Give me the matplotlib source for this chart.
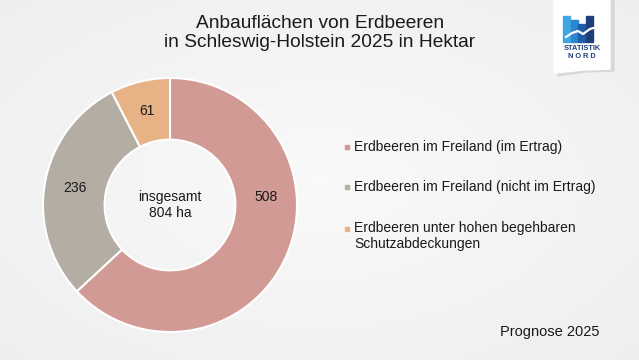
import numpy as np
import matplotlib
matplotlib.use('Agg')
import matplotlib.pyplot as plt
from matplotlib.patches import Rectangle, Polygon

plt.rcParams['font.family'] = ['Liberation Sans', 'DejaVu Sans']

# Daten
categories = ['Erdbeeren im Freiland (im Ertrag)',
              'Erdbeeren im Freiland (nicht im Ertrag)',
              'Erdbeeren unter hohen begehbaren\nSchutzabdeckungen']
values = [508, 236, 61]
colors = ['#D19A95', '#B4ADA3', '#E8B287']
total_label = 'insgesamt\n804 ha'

W, H = 639, 360
fig = plt.figure(figsize=(W / 100, H / 100), dpi=100)

# Hintergrund mit leichtem Verlauf
bg = fig.add_axes([0, 0, 1, 1], zorder=-10)
yy, xx = np.mgrid[0:H, 0:W]
d = np.sqrt(((xx - W * 0.5) / W) ** 2 + ((yy - H * 0.5) / H) ** 2)
grad = 0.978 - 0.06 * d
bg.imshow(np.dstack([grad, grad, grad]), extent=[0, W, H, 0], aspect='auto')
bg.set_xlim(0, W)
bg.set_ylim(H, 0)
bg.axis('off')

# Titel
fig.text(320 / W, 1 - 33 / H, 'Anbauflächen von Erdbeeren\nin Schleswig-Holstein 2025 in Hektar',
         ha='center', va='center', fontsize=13.8, color='#1a1a1a', linespacing=1.22)

# Ringdiagramm
cx, cy, r = 170, 205, 127
ax = fig.add_axes([(cx - r) / W, (H - cy - r) / H, 2 * r / W, 2 * r / H])
wedges, _ = ax.pie(values, colors=colors, startangle=90, counterclock=False,
                   wedgeprops=dict(width=0.485, edgecolor='white', linewidth=1.5))
ax.set_xlim(-1, 1)
ax.set_ylim(-1, 1)
ax.set_aspect('equal')
ax.axis('off')

label_r = 0.76
for i, (w, v) in enumerate(zip(wedges, values)):
    ang = np.deg2rad((w.theta1 + w.theta2) / 2)
    if i == 0:
        ang = np.deg2rad(5)  # große Scheibe: Beschriftung rechts
    ax.text(label_r * np.cos(ang), label_r * np.sin(ang), str(v),
            ha='center', va='center', fontsize=10, color='#1a1a1a')
ax.text(0, 0.0, total_label, ha='center', va='center', fontsize=10,
        color='#1a1a1a', linespacing=1.15)

# Legende
leg_y = [147, 187, 229]
for lab, col, y in zip(categories, colors, leg_y):
    fig.patches.append(Rectangle((345 / W, 1 - (y + 2) / H), 4 / W, 4 / H,
                                 transform=fig.transFigure, color=col))
    fig.text(354 / W, 1 - y / H, lab, ha='left', va='top' if '\n' in lab else 'center',
             fontsize=10, color='#1a1a1a', linespacing=1.2)
# mehrzeiliger Eintrag: oben ausrichten
fig.texts[-1].set_position((354 / W, 1 - (229 - 8) / H))

fig.text(600 / W, 1 - 332 / H, 'Prognose 2025', ha='right', va='center',
         fontsize=10.5, color='#1a1a1a')

# Logo
def fx(x):
    return x / W

def fy(y):
    return 1 - y / H

shadow = Polygon([(fx(558), fy(0)), (fx(614), fy(0)), (fx(614), fy(71)),
                  (fx(585), fy(72)), (fx(558), fy(76))],
                 closed=True, transform=fig.transFigure, color='#d8d8d8', zorder=1)
page = Polygon([(fx(554), fy(0)), (fx(610), fy(0)), (fx(610), fy(69)),
                (fx(585), fy(70)), (fx(554), fy(73))],
               closed=True, transform=fig.transFigure, color='white', zorder=2)
fig.patches.extend([shadow, page])
bar_x = [563, 570.5, 578, 585.5]
bar_top = [16, 20, 24, 16]
bar_col = ['#3FA6E2', '#2A86D0', '#1F5FA8', '#1D3F7A']
for bx, bt, bc in zip(bar_x, bar_top, bar_col):
    fig.patches.append(Rectangle((fx(bx), fy(42)), 7 / W, (42 - bt) / H,
                                 transform=fig.transFigure, color=bc, zorder=3))
gull_x = [566, 572, 578, 583, 590, 597, 604]
gull_y = [37, 33, 31, 34, 29, 27, 26]
fig.lines.append(plt.Line2D([fx(x) for x in gull_x], [fy(y) for y in gull_y],
                            transform=fig.transFigure, color='white', lw=1.6, zorder=4))
fig.text(fx(582), fy(49), 'STATISTIK', ha='center', va='center', fontsize=5.3,
         fontweight='bold', color='#1D3F7A', zorder=5)
fig.text(fx(582), fy(57), 'N O R D', ha='center', va='center', fontsize=5.3,
         fontweight='bold', color='#1D3F7A', zorder=5)

fig.savefig('out.png', dpi=100)
